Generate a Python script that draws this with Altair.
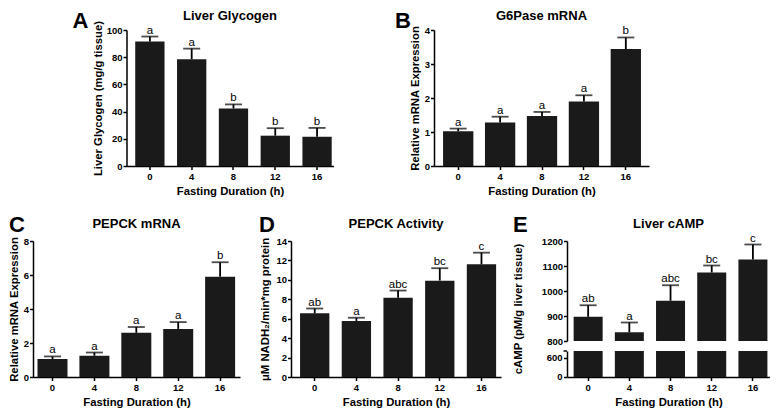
import altair as alt
import pandas as pd

# ---------------- data ----------------
DURATIONS = ["0", "4", "8", "12", "16"]

GLYCOGEN_MEAN = [91.5, 78.5, 42.3, 22.3, 21.5]
GLYCOGEN_SEM = [3.7, 7.8, 3.0, 5.5, 6.5]
GLYCOGEN_SIG = ["a", "a", "b", "b", "b"]

G6PASE_MEAN = [1.02, 1.28, 1.47, 1.90, 3.44]
G6PASE_SEM = [0.08, 0.17, 0.12, 0.18, 0.34]
G6PASE_SIG = ["a", "a", "a", "a", "b"]

PEPCK_MRNA_MEAN = [1.06, 1.25, 2.60, 2.83, 5.90]
PEPCK_MRNA_SEM = [0.15, 0.19, 0.34, 0.40, 0.85]
PEPCK_MRNA_SIG = ["a", "a", "a", "a", "b"]

PEPCK_ACT_MEAN = [6.55, 5.77, 8.16, 9.92, 11.6]
PEPCK_ACT_SEM = [0.50, 0.33, 0.74, 1.28, 1.20]
PEPCK_ACT_SIG = ["ab", "a", "abc", "bc", "c"]

CAMP_MEAN = [897, 835, 961, 1074, 1126]
CAMP_SEM = [46, 39, 62, 28, 60]
CAMP_SIG = ["ab", "a", "abc", "bc", "c"]

PANEL_LETTERS = ["A", "B", "C", "D", "E"]
PANEL_TITLES = ["Liver Glycogen", "G6Pase mRNA", "PEPCK mRNA", "PEPCK Activity", "Liver cAMP"]
Y_TITLES = [
    "Liver Glycogen (mg/g tissue)",
    "Relative mRNA Expression",
    "Relative mRNA Expression",
    "\u03bcM NADH\u2082/min*mg protein",
    "cAMP (pM/g liver tissue)",
]
X_TITLE = "Fasting Duration (h)"

A_TICKS = [0, 20, 40, 60, 80, 100]
B_TICKS = [0, 1, 2, 3, 4]
C_TICKS = [0, 2, 4, 6, 8]
D_TICKS = [0, 2, 4, 6, 8, 10, 12, 14]
E_UPPER_TICKS = [800, 900, 1000, 1100, 1200]
E_LOWER_TICKS = [0, 600]
E_LOWER_TOP = 810  # top of the lower (broken) axis segment

# ---------------- style ----------------
FONT = "Liberation Sans"
BAR = "#1a1a1a"
H = 136
LABEL_SIZE = 9.5


def frame(mean, sem, sig):
    df = pd.DataFrame({"dur": DURATIONS, "mean": mean, "sem": sem, "sig": sig})
    df["upper"] = df["mean"] + df["sem"]
    return df


def x_enc(spec):
    scale = alt.Scale(domain=DURATIONS, range=[0, spec["w"]],
                      paddingInner=spec["pi"], paddingOuter=spec["po"], align=spec["al"])
    ax = alt.Axis(title=X_TITLE, titleX=spec["w"] / 2, titleY=28.5,
                  titleBaseline="alphabetic", titleAlign="center", titleAngle=0,
                  labelAngle=0)
    return alt.X("dur:N", sort=DURATIONS, scale=scale, axis=ax)


def text_layer(txt, x, y, size, weight="bold", align="center", baseline="alphabetic", angle=0):
    return alt.Chart(pd.DataFrame({"t": [txt]})).mark_text(
        font=FONT, fontSize=size, fontWeight=weight, align=align, baseline=baseline,
        angle=angle, color="black"
    ).encode(x=alt.value(x), y=alt.value(y), text="t:N")


def data_layers(df, spec, yscale, yaxis, y2base):
    base = alt.Chart(df)
    xe = x_enc(spec)
    bars = base.mark_bar(color=BAR).encode(
        x=xe, y=alt.Y("mean:Q", scale=yscale, axis=yaxis), y2=alt.datum(y2base))
    stem = base.mark_rule(color="black", strokeWidth=1.8).encode(
        x=xe, y=alt.Y("mean:Q", scale=yscale, axis=yaxis), y2="upper:Q")
    cap = base.mark_tick(color="black", thickness=1.8, size=17).encode(
        x=xe, y=alt.Y("upper:Q", scale=yscale, axis=yaxis))
    sig = base.mark_text(font=FONT, fontSize=11.5, baseline="alphabetic", dy=-3,
                         color="black").encode(
        x=xe, y=alt.Y("upper:Q", scale=yscale, axis=yaxis), text="sig:N")
    return [bars, stem, cap, sig]


def panel(df, spec, idx, ticks):
    yscale = alt.Scale(domain=[ticks[0], ticks[-1]], nice=False, zero=True)
    yaxis = alt.Axis(values=ticks, title=Y_TITLES[idx], titleX=spec["tx"], titleY=H / 2,
                     titleAngle=270, titleBaseline="alphabetic", titleAlign="center",
                     format="d")
    layers = data_layers(df, spec, yscale, yaxis, ticks[0])
    layers.append(text_layer(PANEL_LETTERS[idx], spec["lx"], spec["ly"], 22,
                             align="left", baseline="top"))
    layers.append(text_layer(PANEL_TITLES[idx], spec["w"] / 2, spec["ty"], 13))
    return alt.layer(*layers).properties(width=spec["width"], height=H)


SPEC_A = dict(w=207, width=260.5, pi=0.299, po=0.126, al=0.83, tx=-25, lx=-54, ly=-19, ty=-10)
SPEC_B = dict(w=215, width=215, pi=0.277, po=0.204, al=0.53, tx=-16, lx=-39, ly=-19, ty=-10)
SPEC_C = dict(w=207, width=207, pi=0.284, po=0.112, al=0.48, tx=-15.5, lx=-24, ly=-26, ty=-13)
SPEC_D = dict(w=210, width=225, pi=0.297, po=0.167, al=0.65, tx=-22.5, lx=-32, ly=-26, ty=-13)
SPEC_E = dict(w=203, width=203, pi=0.296, po=0.112, al=0.72, tx=-45, lx=-54, ly=-26, ty=-13)

chart_a = panel(frame(GLYCOGEN_MEAN, GLYCOGEN_SEM, GLYCOGEN_SIG), SPEC_A, 0, A_TICKS)
chart_b = panel(frame(G6PASE_MEAN, G6PASE_SEM, G6PASE_SIG), SPEC_B, 1, B_TICKS)
chart_c = panel(frame(PEPCK_MRNA_MEAN, PEPCK_MRNA_SEM, PEPCK_MRNA_SIG), SPEC_C, 2, C_TICKS)
chart_d = panel(frame(PEPCK_ACT_MEAN, PEPCK_ACT_SEM, PEPCK_ACT_SIG), SPEC_D, 3, D_TICKS)

# empty spacer that pushes the top row to the right
spacer = alt.Chart(pd.DataFrame({"t": [0]})).mark_rule(strokeOpacity=0).encode(
    x=alt.value(0), x2=alt.value(1), y=alt.value(0), y2=alt.value(0)
).properties(width=46.5, height=H)

# ---- panel E with broken axis ----
df_e = frame(CAMP_MEAN, CAMP_SEM, CAMP_SIG)
up_scale = alt.Scale(domain=[E_UPPER_TICKS[0], E_UPPER_TICKS[-1]], range=[100, 0], nice=False, zero=False)
low_scale = alt.Scale(domain=[E_LOWER_TICKS[0], E_LOWER_TOP], range=[H, 110], nice=False,
                      zero=True, clamp=True)
up_axis = alt.Axis(values=E_UPPER_TICKS, title=None, orient="left", format="d")
low_axis = alt.Axis(values=E_LOWER_TICKS, title=None, orient="left", labels=False)
upper_group = alt.layer(*data_layers(df_e, SPEC_E, up_scale, up_axis, E_UPPER_TICKS[0]))
low_bars = alt.Chart(df_e).mark_bar(color=BAR).encode(
    x=x_enc(SPEC_E), y=alt.Y("mean:Q", scale=low_scale, axis=low_axis),
    y2=alt.datum(E_LOWER_TICKS[0]))
break_stub = alt.Chart(pd.DataFrame({"top": [E_LOWER_TOP]})).mark_rule(
    color="black", strokeWidth=1.5
).encode(x=alt.value(-3.5), x2=alt.value(0),
         y=alt.Y("top:Q", scale=low_scale, axis=low_axis))
low_labels = alt.Chart(pd.DataFrame({"v": E_LOWER_TICKS[1:]})).mark_text(
    font=FONT, fontSize=LABEL_SIZE, fontWeight="bold", align="right", baseline="middle",
    color="black"
).encode(x=alt.value(-4.5), y=alt.Y("v:Q", scale=low_scale, axis=low_axis),
         text=alt.Text("v:Q", format="d"))
lower_group = alt.layer(low_bars, break_stub, low_labels)
# label of the axis origin, drawn at the bottom of the lower segment
zero_label = alt.Chart(pd.DataFrame({"t": [str(E_LOWER_TICKS[0])]})).mark_text(
    font=FONT, fontSize=LABEL_SIZE, fontWeight="bold", align="right", baseline="middle",
    color="black"
).encode(x=alt.value(-4.5), y=alt.value(H), text="t:N")
chart_e = alt.layer(
    upper_group, lower_group, zero_label,
    text_layer(Y_TITLES[4], SPEC_E["tx"], H / 2, 11.3, angle=270),
    text_layer(PANEL_LETTERS[4], SPEC_E["lx"], SPEC_E["ly"], 22, align="left", baseline="top"),
    text_layer(PANEL_TITLES[4], SPEC_E["w"] / 2, SPEC_E["ty"], 13),
).resolve_scale(y="independent").properties(width=SPEC_E["width"], height=H)

row1 = alt.hconcat(spacer, chart_a, chart_b, spacing=46.5, bounds="flush")
row2 = alt.hconcat(chart_c, chart_d, chart_e, spacing=51, bounds="flush")

chart = alt.vconcat(row1, row2, spacing=17).properties(
    padding={"top": 2, "left": 0, "right": 0, "bottom": 0}
).configure_view(
    stroke=None
).configure_axis(
    domainColor="black", domainWidth=1.5, tickColor="black", tickWidth=1.5, tickSize=3.5,
    labelColor="black", labelFont=FONT, labelFontSize=LABEL_SIZE, labelFontWeight="bold",
    titleColor="black", titleFont=FONT, titleFontSize=11.3, titleFontWeight="bold",
    grid=False, labelFlush=False, labelOverlap=False
).configure_axisX(labelPadding=2).configure_axisY(labelPadding=1)

chart.save("out.html", embed_options={"renderer": "svg", "actions": False})
